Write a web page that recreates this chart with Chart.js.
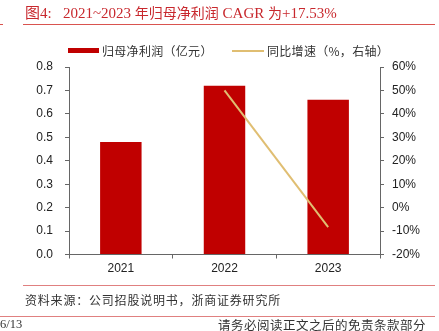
<!DOCTYPE html>
<html>
<head>
<meta charset="utf-8">
<script src="https://cdn.jsdelivr.net/npm/chart.js@4.4.1/dist/chart.umd.min.js"></script>
<style>
  html,body{margin:0;padding:0;background:#fff;}
  body{width:439px;height:331px;position:relative;overflow:hidden;font-family:"Liberation Sans",Arial,sans-serif;}
  #c{position:absolute;left:0;top:0;}
  .abs{position:absolute;white-space:nowrap;}
  .title{left:25px;top:1px;font-family:"Liberation Serif","Noto Sans CJK SC",serif;font-size:15px;color:#C8282D;}
  .title .cjk{font-family:"Noto Sans CJK SC",sans-serif;font-size:14px;}
  .hr{position:absolute;height:1.5px;background:#D9534F;}
  .leg{font-family:"Noto Sans CJK SC",sans-serif;font-size:12px;color:#333;letter-spacing:0.3px;}
  .src{left:25px;top:291px;font-family:"Noto Sans CJK SC",sans-serif;font-size:12px;color:#333;letter-spacing:0.8px;}
  .foot{font-family:"Noto Sans CJK SC",sans-serif;font-size:12.5px;color:#333;}
</style>
</head>
<body>
<canvas id="c" width="439" height="331"></canvas>
<div class="abs title">图4:&nbsp;&nbsp;&nbsp;2021~2023 <span class="cjk">年归母净利润</span> CAGR <span class="cjk">为</span>+17.53%</div>
<div class="hr" style="left:23px;top:23.5px;width:412px;"></div>
<div class="hr" style="left:0px;top:23.5px;width:3px;"></div>

<div class="abs" style="left:68px;top:48px;width:31px;height:5px;background:#C00000;"></div>
<div class="abs leg" style="left:102px;top:42px;">归母净利润（亿元）</div>
<div class="abs" style="left:232px;top:50px;width:32px;height:2px;background:#E0BE72;"></div>
<div class="abs leg" style="left:267px;top:42px;">同比增速（%，右轴）</div>

<div class="hr" style="left:23px;top:284.5px;width:412px;background:#E08080;"></div>
<div class="abs src">资料来源：公司招股说明书，浙商证券研究所</div>
<div class="hr" style="left:0px;top:315.5px;width:435px;background:#E08080;"></div>
<div class="abs" style="left:0px;top:317px;font-family:'Liberation Serif',serif;font-size:12.5px;color:#333;">6/13</div>
<div class="abs foot" style="left:218px;top:315px;letter-spacing:0.5px;">请务必阅读正文之后的免责条款部分</div>

<script>
const categories = ['2021', '2022', '2023'];
const netProfit = [0.48, 0.72, 0.66];          // 归母净利润（亿元）
const yoyGrowth = [null, 50.0, -8.3];          // 同比增速（%）
const leftTicks = [0, 0.8, 0.1];               // min, max, step
const rightTicks = [-20, 60, 10];

const axisColor = '#666';
const tickFont = {family: '"Liberation Sans", Arial, sans-serif', size: 12};

new Chart(document.getElementById('c'), {
  data: {
    labels: categories,
    datasets: [
      {
        type: 'line',
        label: '同比增速（%，右轴）',
        data: yoyGrowth,
        yAxisID: 'y2',
        borderColor: '#E0BE72',
        backgroundColor: '#E0BE72',
        borderWidth: 2,
        pointRadius: 0,
        tension: 0,
        order: 0
      },
      {
        type: 'bar',
        label: '归母净利润（亿元）',
        data: netProfit,
        yAxisID: 'y',
        backgroundColor: '#C00000',
        categoryPercentage: 1.0,
        barPercentage: 0.4,
        order: 1
      }
    ]
  },
  options: {
    responsive: false,
    animation: false,
    layout: {padding: {top: 67, bottom: 0, left: 0, right: 0}},
    plugins: {legend: {display: false}, tooltip: {enabled: false}},
    scales: {
      x: {
        grid: {display: true, drawOnChartArea: false, drawTicks: true, tickLength: 4, color: axisColor, offset: true},
        border: {display: true, color: axisColor},
        ticks: {font: tickFont, color: '#222', padding: 3},
        afterFit: s => { s.height = 76.5; }
      },
      y: {
        position: 'left',
        min: leftTicks[0], max: leftTicks[1],
        ticks: {stepSize: leftTicks[2], font: tickFont, color: '#222', padding: 12,
                callback: v => Number(v).toFixed(1)},
        grid: {drawOnChartArea: false, drawTicks: true, tickLength: 4, color: axisColor},
        border: {display: true, color: axisColor},
        afterFit: s => { s.width = 69; }
      },
      y2: {
        position: 'right',
        min: rightTicks[0], max: rightTicks[1],
        ticks: {stepSize: rightTicks[2], font: tickFont, color: '#222', padding: 8,
                callback: v => Math.round(v) + '%'},
        grid: {drawOnChartArea: false, drawTicks: true, tickLength: 4, color: axisColor},
        border: {display: true, color: axisColor},
        afterFit: s => { s.width = 59; }
      }
    }
  }
});
</script>
</body>
</html>
